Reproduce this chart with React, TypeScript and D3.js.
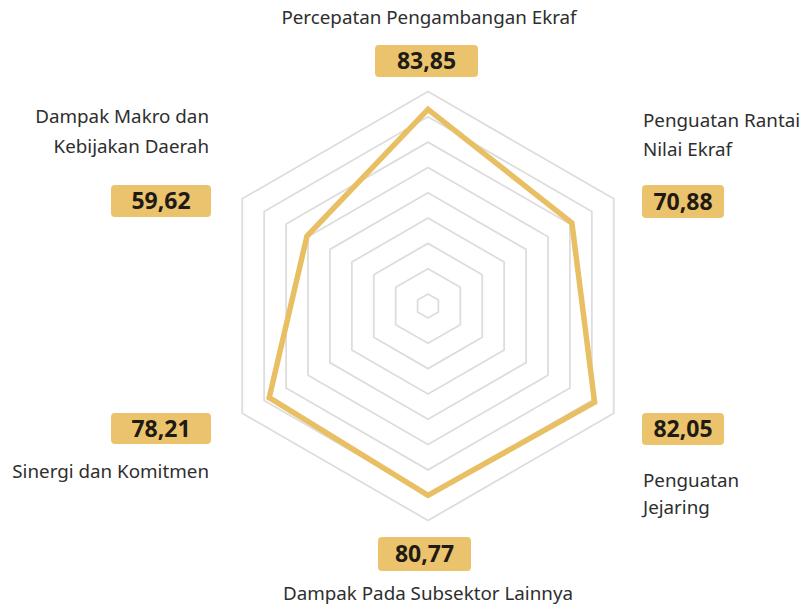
import React from 'react';
import * as d3 from 'd3';

const categories = [
  'Percepatan Pengambangan Ekraf',
  'Penguatan Rantai Nilai Ekraf',
  'Penguatan Jejaring',
  'Dampak Pada Subsektor Lainnya',
  'Sinergi dan Komitmen',
  'Dampak Makro dan Kebijakan Daerah',
];
const values = [83.85, 70.88, 82.05, 80.77, 78.21, 59.62];
const valueLabels = ['83,85', '70,88', '82,05', '80,77', '78,21', '59,62'];
const ringLevels = [0, 1, 2, 3, 4, 5, 6, 7, 8];

const W = 805;
const H = 613;
const cx = 428;
const cy = 306;
const R = 214.5;

// layout per axis (positions only)
const layout = [
  { lines: ['Percepatan Pengambangan Ekraf'], anchor: 'middle', lx: 429, ly: [24], px: 375, py: 45, pw: 103, ph: 32 },
  { lines: ['Penguatan Rantai', 'Nilai Ekraf'], anchor: 'start', lx: 643, ly: [127, 156], px: 642, py: 185, pw: 82, ph: 33 },
  { lines: ['Penguatan', 'Jejaring'], anchor: 'start', lx: 643, ly: [487, 514], px: 642, py: 413, pw: 82, ph: 32 },
  { lines: ['Dampak Pada Subsektor Lainnya'], anchor: 'middle', lx: 428, ly: [600], px: 378, py: 537, pw: 93, ph: 34 },
  { lines: ['Sinergi dan Komitmen'], anchor: 'end', lx: 209, ly: [478], px: 111, py: 413, pw: 100, ph: 31 },
  { lines: ['Dampak Makro dan', 'Kebijakan Daerah'], anchor: 'end', lx: 209, ly: [123, 153], px: 111, py: 185, pw: 100, ph: 32 },
];

export default function App() {
  const n = categories.length;
  const angle = (i: number) => (i * 2 * Math.PI) / n;
  const rScale = d3.scaleLinear().domain([0, 91.5]).range([0, R]);
  const ringScale = d3.scaleLinear().domain([0, ringLevels.length - 1]).range([12, R]);

  const radial = d3
    .lineRadial<number>()
    .angle((_, i) => angle(i))
    .radius((d) => d)
    .curve(d3.curveLinearClosed);

  const ringPaths = ringLevels.map((lv) => radial(d3.range(n).map(() => ringScale(lv))) as string);
  const dataPath = radial(values.map((v) => rScale(v))) as string;

  const font = "'Noto Sans', 'Open Sans', sans-serif";

  return (
    <svg width={W} height={H} style={{ position: 'absolute', left: 0, top: 0, background: '#fff' }}>
      <g transform={`translate(${cx},${cy})`}>
        {ringPaths.map((d, i) => (
          <path key={i} d={d} fill="none" stroke="#DDDDDD" strokeWidth={1.8} />
        ))}
        <path d={dataPath} fill="none" stroke="#E8BF63" strokeWidth={5.5} strokeLinejoin="miter" />
      </g>
      {layout.map((l, i) => (
        <g key={i}>
          <text textAnchor={l.anchor as any} fontFamily={font} fontSize={18.8} fill="#2e2e2e">
            {l.lines.map((t, j) => (
              <tspan key={j} x={l.lx} y={l.ly[j]}>
                {t}
              </tspan>
            ))}
          </text>
          <rect x={l.px} y={l.py} width={l.pw} height={l.ph} rx={4} fill="#EBC36D" />
          <text
            x={l.px + l.pw / 2}
            y={l.py + l.ph / 2 + 8}
            textAnchor="middle"
            fontFamily={font}
            fontWeight={700}
            fontSize={23}
            fill="#1e1a14"
          >
            {valueLabels[i]}
          </text>
        </g>
      ))}
    </svg>
  );
}
